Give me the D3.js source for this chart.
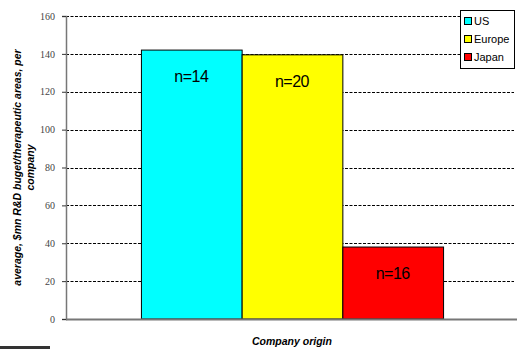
<!DOCTYPE html>
<html>
<head>
<meta charset="utf-8">
<script src="https://cdn.jsdelivr.net/npm/d3@7"></script>
<style>
  html, body { margin: 0; padding: 0; background: #fff; }
  svg { display: block; }
</style>
</head>
<body>
<script>
// Average R&D budget per therapeutic area, by company origin
const categories = ["Company origin"];
const series = ["US", "Europe", "Japan"];
const values = [142, 139.5, 38];
const sampleLabels = ["n=14", "n=20", "n=16"];
const colors = ["#00FFFF", "#FFFF00", "#FF0000"];
const yTicks = [0, 20, 40, 60, 80, 100, 120, 140, 160];

const W = 517, H = 349;
const svg = d3.select("body").append("svg").attr("width", W).attr("height", H);

const plotLeft = 66, plotRight = 518, plotTop = 16, plotBottom = 319;

const y = d3.scaleLinear().domain([0, 160]).range([plotBottom, plotTop]);
const x0 = d3.scaleBand().domain(categories).range([plotLeft, plotRight]).paddingInner(0).paddingOuter(0.248);
const x1 = d3.scaleBand().domain(series).range([0, x0.bandwidth()]).padding(0);

// dashed gridlines
svg.append("g").selectAll("line").data(yTicks.filter(d => d > 0)).join("line")
  .attr("x1", plotLeft).attr("x2", 514)
  .attr("y1", d => Math.round(y(d)) + 0.5).attr("y2", d => Math.round(y(d)) + 0.5)
  .attr("stroke", "#000").attr("stroke-width", 1).attr("stroke-dasharray", "3,1.5");

// bars
const g = svg.append("g").attr("transform", `translate(${x0(categories[0])},0)`);
g.selectAll("rect").data(series).join("rect")
  .attr("x", d => x1(d) + 0.5)
  .attr("y", (d, i) => y(values[i]))
  .attr("width", x1.bandwidth())
  .attr("height", (d, i) => plotBottom - y(values[i]))
  .attr("fill", (d, i) => colors[i])
  .attr("stroke", "#000").attr("stroke-width", 1);

g.selectAll("text").data(series).join("text")
  .attr("x", d => x1(d) + x1.bandwidth() / 2)
  .attr("y", (d, i) => y(values[i]) + 32)
  .attr("text-anchor", "middle")
  .style("font-family", "'Liberation Sans', Arial, sans-serif")
  .style("font-size", "16px")
  .style("letter-spacing", "-0.5px")
  .attr("fill", "#000")
  .text((d, i) => sampleLabels[i]);

// y axis
const yAxis = d3.axisLeft(y).tickValues(yTicks).tickSize(4).tickPadding(7);
const ya = svg.append("g").attr("transform", `translate(${plotLeft},0)`).call(yAxis);
ya.select(".domain").attr("stroke", "#777").attr("stroke-width", 1.5);
ya.selectAll(".tick line").attr("stroke", "#333");
ya.selectAll(".tick text")
  .style("font-family", "'Liberation Serif', 'Times New Roman', serif")
  .style("font-size", "10px").attr("fill", "#444");

// x axis line
svg.append("line").attr("x1", plotLeft).attr("x2", W).attr("y1", plotBottom + 0.5).attr("y2", plotBottom + 0.5)
  .attr("stroke", "#777").attr("stroke-width", 2);

// axis titles
const yTitle = svg.append("text")
  .attr("transform", `translate(27,${(plotTop + plotBottom) / 2}) rotate(-90)`)
  .attr("text-anchor", "middle")
  .style("font-family", "'Liberation Sans', Arial, sans-serif")
  .style("font-size", "10.5px").style("font-weight", "bold").style("font-style", "italic");
yTitle.append("tspan").attr("x", 0).attr("dy", -6.5).text("average, $mn R&D buget/therapeutic areas, per");
yTitle.append("tspan").attr("x", 0).attr("dy", 13).text("company");

svg.append("text").attr("x", 292).attr("y", 345)
  .attr("text-anchor", "middle")
  .style("font-family", "'Liberation Sans', Arial, sans-serif")
  .style("font-size", "10.5px").style("font-weight", "bold").style("font-style", "italic")
  .text(categories[0]);

// legend
const lg = svg.append("g");
lg.append("rect").attr("x", 460.5).attr("y", 10.5).attr("width", 54).attr("height", 58)
  .attr("fill", "#fff").attr("stroke", "#000").attr("stroke-width", 1);
const items = lg.selectAll("g.item").data(series).join("g").attr("class", "item")
  .attr("transform", (d, i) => `translate(464,${17 + i * 18})`);
items.append("rect").attr("x", 0.5).attr("y", 0.5).attr("width", 7).attr("height", 7)
  .attr("fill", (d, i) => colors[i]).attr("stroke", "#000").attr("stroke-width", 1);
items.append("text").attr("x", 10).attr("y", 8)
  .style("font-family", "'Liberation Sans', Arial, sans-serif").style("font-size", "11px")
  .text(d => d);

// footer bar
svg.append("rect").attr("x", 0).attr("y", 346).attr("width", 50).attr("height", 3).attr("fill", "#333");
</script>
</body>
</html>
